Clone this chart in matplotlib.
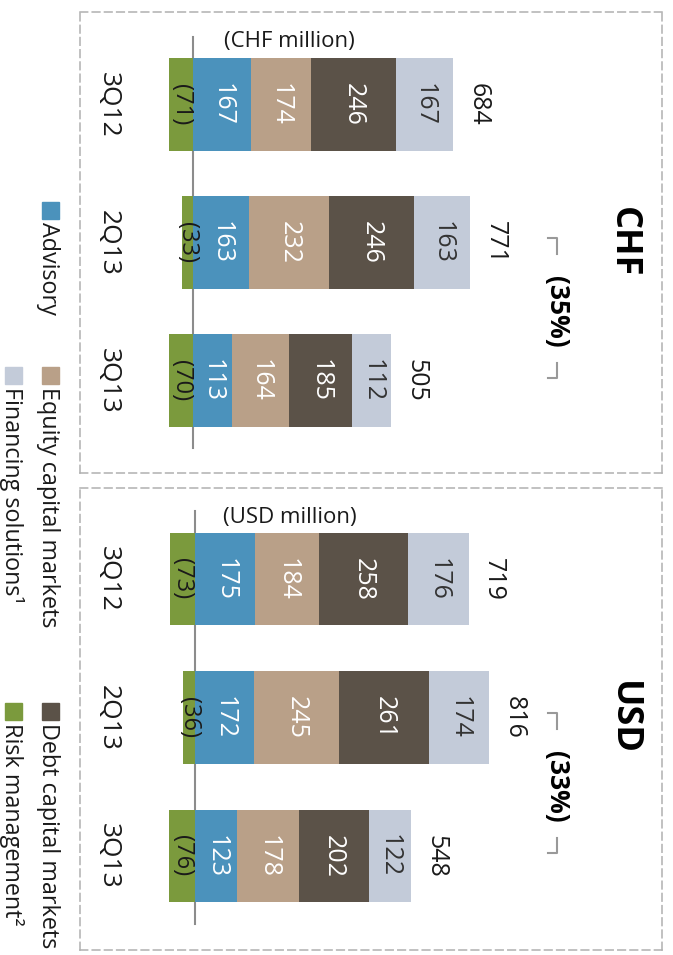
import numpy as np
import matplotlib.pyplot as plt
from matplotlib.patches import Rectangle

plt.rcParams['font.family'] = ['Open Sans', 'DejaVu Sans']

# data (CHF million / USD million)
quarters = ['3Q12', '2Q13', '3Q13']

chf_risk = [-71, -33, -70]
chf_advisory = [167, 163, 113]
chf_equity = [174, 232, 164]
chf_debt = [246, 246, 185]
chf_financing = [167, 163, 112]
chf_total = [684, 771, 505]

usd_risk = [-73, -36, -76]
usd_advisory = [175, 172, 123]
usd_equity = [184, 245, 178]
usd_debt = [258, 261, 202]
usd_financing = [176, 174, 122]
usd_total = [719, 816, 548]

chf_change = '(35%)'
usd_change = '(33%)'

GREEN = '#7b9a3d'
BLUE = '#4b92bc'
TAN = '#b9a088'
DARK = '#5b5248'
LIGHT = '#c3cbd9'
TXT = '#1a1a1a'

W, H = 673, 955
PX = 0.345  # pixels per million


def draw_panel(ax, risk, advisory, equity, debt, financing, total, unit, title, change):
    y = np.arange(len(quarters))
    bh = 0.667
    ax.plot([0, 0], [-0.49, 2.49], color='#8c8c8c', lw=1.5, zorder=1)
    ax.barh(y, risk, height=bh, color=GREEN, zorder=2)
    for yi, r in zip(y, risk):
        ax.text(r / 2, yi, '(%d)' % -r, rotation=270, ha='center', va='center',
                color=TXT, fontsize=17, zorder=3)
    left = np.zeros(len(quarters))
    for vals, col, tc in [(advisory, BLUE, 'white'), (equity, TAN, 'white'),
                          (debt, DARK, 'white'), (financing, LIGHT, '#333333')]:
        ax.barh(y, vals, left=left, height=bh, color=col, zorder=2)
        for yi, l, v in zip(y, left, vals):
            ax.text(l + v / 2, yi, str(v), rotation=270, ha='center', va='center',
                    color=tc, fontsize=18, zorder=3)
        left = left + np.array(vals)
    for yi, l, t in zip(y, left, total):
        ax.annotate(str(t), (l, yi), xytext=(9, 0), textcoords='offset points',
                    rotation=270, ha='left', va='center', color=TXT, fontsize=18)

    tr = ax.get_yaxis_transform()
    for yi, q in zip(y, quarters):
        ax.text(0.048, yi, q, transform=tr, rotation=270, ha='center', va='center',
                color=TXT, fontsize=19)
    ax.text(0.36, 0.937, unit, transform=ax.transAxes, ha='center', va='center',
            color=TXT, fontsize=16)
    ax.text(0.933, 1.0, title, transform=tr, rotation=270, ha='center', va='center',
            color='black', fontsize=26, fontweight='bold')
    ax.text(0.818, 1.5, change, transform=tr, rotation=270, ha='center', va='center',
            color='black', fontsize=19, fontweight='bold')
    # bracket
    ax.plot([0.804, 0.820, 0.820], [0.97, 0.97, 1.08], transform=tr, color='#999999', lw=1.5)
    ax.plot([0.804, 0.820, 0.820], [1.98, 1.98, 1.87], transform=tr, color='#999999', lw=1.5)

    ax.set_yticks([])
    ax.set_xticks([])
    for s in ax.spines.values():
        s.set_linestyle((0, (5, 3)))
        s.set_color('#b0b0b0')
        s.set_linewidth(1.1)


def add_panel(fig, top, bottom, zero, first_center, step):
    left_px, right_px = 80, 662
    ax = fig.add_axes([left_px / W, 1 - bottom / H, (right_px - left_px) / W, (bottom - top) / H])
    ax.set_xlim(-(zero - left_px) / PX, (right_px - zero) / PX)
    ax.set_ylim((bottom - first_center) / step, -(first_center - top) / step)
    return ax


fig = plt.figure(figsize=(W / 100, H / 100), dpi=100)

ax1 = add_panel(fig, 12, 473, 193, 104.5, 138)
draw_panel(ax1, chf_risk, chf_advisory, chf_equity, chf_debt, chf_financing, chf_total,
           '(CHF million)', 'CHF', chf_change)

ax2 = add_panel(fig, 488, 950, 195, 579, 138.5)
draw_panel(ax2, usd_risk, usd_advisory, usd_equity, usd_debt, usd_financing, usd_total,
           '(USD million)', 'USD', usd_change)

# legend, drawn rotated like the rest of the chart
lg = fig.add_axes([0, 0, 1, 1])
lg.set_xlim(0, W)
lg.set_ylim(H, 0)
lg.axis('off')
legend_items = [
    ('Advisory', BLUE, 42, 202),
    ('Equity capital markets', TAN, 42, 367),
    ('Debt capital markets', DARK, 42, 703),
    ('Financing solutions¹', LIGHT, 5, 367),
    ('Risk management²', GREEN, 5, 703),
]
for name, col, x0, y0 in legend_items:
    lg.add_patch(Rectangle((x0, y0), 17, 17, color=col))
    lg.text(x0 + 6, y0 + 20, name, rotation=270, ha='center', va='top',
            color=TXT, fontsize=16.8)

fig.savefig('out.png', dpi=100)
